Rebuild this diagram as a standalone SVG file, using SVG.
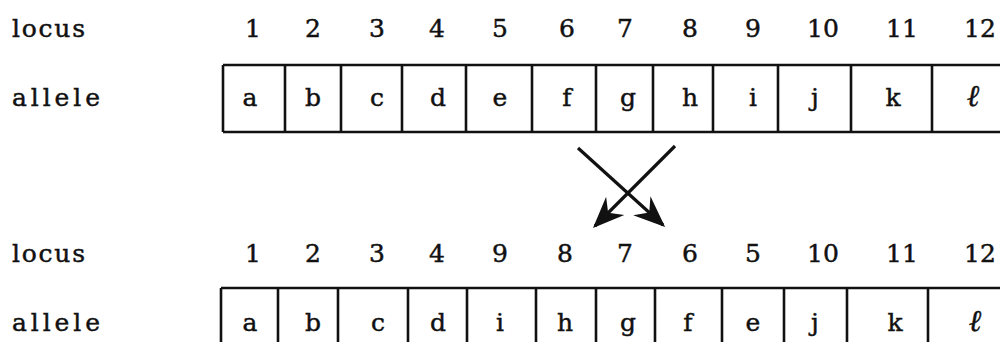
<svg xmlns="http://www.w3.org/2000/svg" width="1000" height="342" viewBox="0 0 1000 342">
<style>
.t{font-family:"DejaVu Serif","Liberation Serif",serif;font-size:25px;fill:#111;stroke:#111;stroke-width:0.45}
.c{text-anchor:middle}
.l{font-size:30px;font-family:"Liberation Serif","DejaVu Serif",serif;font-style:italic}
.b{fill:none;stroke:#111;stroke-width:2.6}
.a{fill:none;stroke:#111;stroke-width:3.2}
</style>
<defs>
<marker id="ah" markerUnits="userSpaceOnUse" markerWidth="40" markerHeight="40" refX="0" refY="0" viewBox="-24 -12 28 24" orient="auto">
<path d="M2,0 L-20,-9 L-13,0 L-20,9 Z" fill="#111"/>
</marker>
</defs>
<rect width="1000" height="342" fill="#fff"/>
<g id="labels" class="t">
<text x="12" y="37" textLength="73" lengthAdjust="spacing">locus</text>
<text x="12" y="106" textLength="88" lengthAdjust="spacing">allele</text>
<text x="12" y="262" textLength="73" lengthAdjust="spacing">locus</text>
<text x="12" y="331" textLength="88" lengthAdjust="spacing">allele</text>
</g>
<g id="top-loci" class="t c">
<text x="253" y="37">1</text><text x="313" y="37">2</text><text x="377" y="37">3</text><text x="437" y="37">4</text>
<text x="500" y="37">5</text><text x="567" y="37">6</text><text x="625" y="37">7</text><text x="690" y="37">8</text>
<text x="753" y="37">9</text><text x="823" y="37">10</text><text x="902" y="37">11</text><text x="980" y="37">12</text>
</g>
<g id="top-chromosome">
<path class="b" d="M223,65 H1002 M223,132 H1002 M223,65 V132 M285,65 V132 M341,65 V132 M402,65 V132 M466,65 V132 M532,65 V132 M596,65 V132 M653,65 V132 M713,65 V132 M778,65 V132 M851,65 V132 M932,65 V132"/>
<g class="t c">
<text x="250" y="106">a</text><text x="313" y="106">b</text><text x="377" y="106">c</text><text x="438" y="106">d</text>
<text x="500" y="106">e</text><text x="567" y="106">f</text><text x="628" y="106">g</text><text x="690" y="106">h</text>
<text x="753" y="106">i</text><text x="815" y="106">j</text><text x="893" y="106">k</text><text class="l" x="973" y="106">ℓ</text>
</g>
</g>
<g id="bottom-loci" class="t c">
<text x="253" y="262">1</text><text x="313" y="262">2</text><text x="377" y="262">3</text><text x="437" y="262">4</text>
<text x="500" y="262">9</text><text x="565" y="262">8</text><text x="625" y="262">7</text><text x="690" y="262">6</text>
<text x="753" y="262">5</text><text x="823" y="262">10</text><text x="902" y="262">11</text><text x="980" y="262">12</text>
</g>
<g id="bottom-chromosome">
<path class="b" d="M221,288 H1002 M221,288 V345 M278,288 V345 M338,288 V345 M408,288 V345 M467,288 V345 M536,288 V345 M596,288 V345 M655,288 V345 M722,288 V345 M784,288 V345 M847,288 V345 M928,288 V345"/>
<g class="t c">
<text x="250" y="331">a</text><text x="313" y="331">b</text><text x="378" y="331">c</text><text x="438" y="331">d</text>
<text x="500" y="331">i</text><text x="565" y="331">h</text><text x="628" y="331">g</text><text x="688" y="331">f</text>
<text x="753" y="331">e</text><text x="815" y="331">j</text><text x="895" y="331">k</text><text class="l" x="975" y="331">ℓ</text>
</g>
</g>
<g id="connectors">
<line class="a" x1="578" y1="148" x2="663" y2="225" marker-end="url(#ah)"/>
<line class="a" x1="675" y1="146" x2="595" y2="226" marker-end="url(#ah)"/>
</g>
</svg>
